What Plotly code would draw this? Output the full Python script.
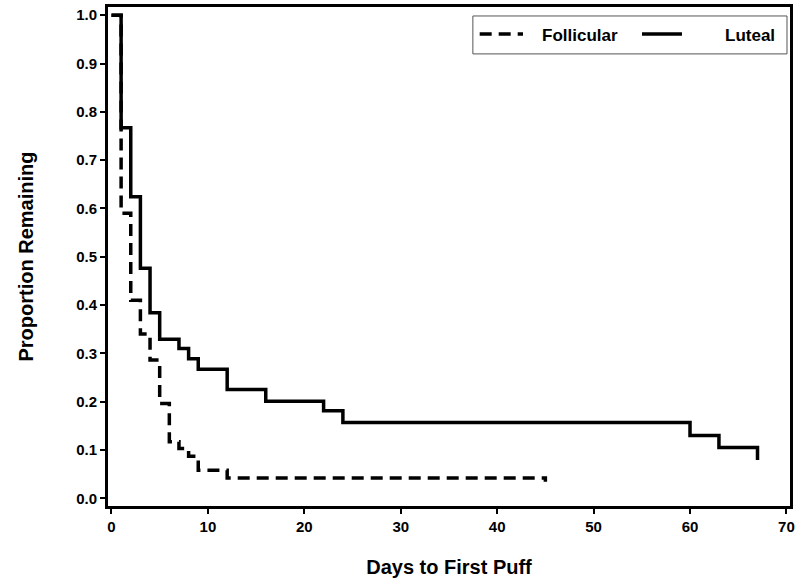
import plotly.graph_objects as go

# Data
follicular_days = [0, 1, 2, 3, 4, 5, 6, 7, 8, 9, 12, 45]
follicular_prop = [1.0, 0.59, 0.41, 0.34, 0.286, 0.196, 0.117, 0.103, 0.087, 0.058, 0.042, 0.034]

luteal_days = [0, 1, 2, 3, 4, 5, 7, 8, 9, 12, 16, 22, 24, 60, 63, 67]
luteal_prop = [1.0, 0.767, 0.624, 0.476, 0.384, 0.329, 0.31, 0.289, 0.267, 0.225, 0.201, 0.181, 0.157, 0.13, 0.105, 0.079]

x_ticks = [0, 10, 20, 30, 40, 50, 60, 70]
y_ticks = [0.0, 0.1, 0.2, 0.3, 0.4, 0.5, 0.6, 0.7, 0.8, 0.9, 1.0]

FONT = "Liberation Sans"

fig = go.Figure()
fig.add_trace(go.Scatter(
    x=follicular_days, y=follicular_prop, mode="lines", line_shape="hv",
    line=dict(color="black", width=3.5, dash="12px,7px"), name="Follicular",
    showlegend=False))
fig.add_trace(go.Scatter(
    x=luteal_days, y=luteal_prop, mode="lines", line_shape="hv",
    line=dict(color="black", width=3.5), name="Luteal", showlegend=False))

axis_common = dict(
    showline=True, linecolor="black", linewidth=3, mirror=True,
    ticks="outside", ticklen=5, tickwidth=1.5, tickcolor="black",
    showgrid=False, zeroline=False, automargin=False,
    tickfont=dict(family=FONT, size=15, color="black", weight="bold"),
)

fig.update_xaxes(
    range=[-0.36, 70.37], tickvals=x_ticks,
    title=dict(text="Days to First Puff", font=dict(family=FONT, size=20, color="black", weight="bold"), standoff=26),
    **axis_common)
fig.update_yaxes(
    range=[-0.016, 1.017], tickvals=y_ticks, tickformat=".1f",
    title=dict(text="Proportion Remaining", font=dict(family=FONT, size=20, color="black", weight="bold"), standoff=38),
    **axis_common)

# Custom legend box (paper coordinates)
fig.add_shape(type="rect", xref="paper", yref="paper", x0=0.535, x1=0.9956, y0=0.906, y1=0.982,
              line=dict(color="#555555", width=1), fillcolor="white", layer="above")
fig.add_shape(type="line", xref="paper", yref="paper", x0=0.545, x1=0.6085, y0=0.946, y1=0.946,
              line=dict(color="black", width=3.5, dash="12px,7px"), layer="above")
fig.add_shape(type="line", xref="paper", yref="paper", x0=0.783, x1=0.8416, y0=0.946, y1=0.946,
              line=dict(color="black", width=3.5), layer="above")
fig.add_annotation(xref="paper", yref="paper", x=0.633, y=0.943, text="Follicular", showarrow=False,
                   xanchor="left", yanchor="middle",
                   font=dict(family=FONT, size=17, color="black", weight="bold"))
fig.add_annotation(xref="paper", yref="paper", x=0.981, y=0.943, text="Luteal", showarrow=False,
                   xanchor="right", yanchor="middle",
                   font=dict(family=FONT, size=17, color="black", weight="bold"))

fig.update_layout(
    width=800, height=584,
    margin=dict(l=108, r=10, t=7, b=78, autoexpand=False),
    paper_bgcolor="white", plot_bgcolor="white",
    showlegend=False,
)

fig.write_html("out.html", config={"displayModeBar": False},
               post_script="document.body.style.margin='0';")
